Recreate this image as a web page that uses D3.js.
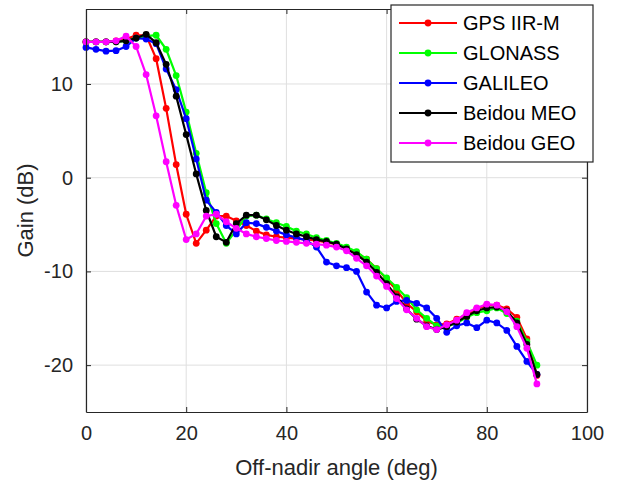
<!DOCTYPE html>
<html>
<head>
<meta charset="utf-8">
<script src="https://cdn.jsdelivr.net/npm/d3@7"></script>
<style>
  html, body { margin: 0; padding: 0; background: #fff; }
  svg { display: block; font-family: "Liberation Sans", Arial, sans-serif; }
</style>
</head>
<body>
<svg id="chart" width="618" height="487"></svg>
<script>
// ---- data ----
const angles = d3.range(0, 91, 2); // off-nadir angle (deg), 0..90 step 2

const seriesNames = ["GPS IIR-M", "GLONASS", "GALILEO", "Beidou MEO", "Beidou GEO"];
const seriesColors = ["#ff0000", "#00ff00", "#0000ff", "#000000", "#ff00ff"];

const gpsIIRM = [14.5, 14.5, 14.5, 14.6, 14.8, 15.2, 15.2, 12.7, 7.4, 1.4,
  -3.9, -7.0, -5.6, -4.1, -4.1, -4.6, -5.1, -5.7, -6.1, -6.3,
  -6.4, -6.5, -6.6, -6.7, -6.9, -7.1, -7.5, -8.0, -8.7, -9.7,
  -10.8, -12.0, -13.4, -14.3, -15.3, -15.7, -15.6, -15.1, -14.6, -14.0,
  -13.6, -13.6, -14.0, -14.9, -17.2, -21.1];

const glonass = [14.5, 14.5, 14.5, 14.5, 14.6, 14.9, 15.1, 15.2, 13.7, 10.9,
  7.0, 2.6, -1.6, -4.9, -7.0, -5.6, -4.1, -4.0, -4.4, -4.8,
  -5.2, -5.7, -6.0, -6.4, -6.7, -7.0, -7.4, -7.9, -8.7, -9.7,
  -10.7, -11.7, -12.8, -14.1, -15.0, -15.8, -15.9, -15.5, -14.9, -14.4,
  -14.2, -13.9, -14.5, -15.3, -17.5, -20.0];

const galileo = [13.9, 13.7, 13.5, 13.55, 14.0, 14.9, 14.8, 14.3, 11.6, 9.4,
  6.3, 2.0, -2.4, -3.7, -5.1, -6.0, -4.8, -4.9, -5.3, -5.7,
  -6.1, -6.4, -6.7, -7.4, -9.0, -9.4, -9.6, -10.0, -12.2, -13.6,
  -13.9, -13.2, -13.1, -13.4, -13.9, -15.0, -16.5, -15.8, -15.5, -16.0,
  -15.2, -15.5, -16.3, -18.0, -19.6, -21.0];

const beidouMEO = [14.5, 14.5, 14.5, 14.5, 14.6, 14.9, 15.3, 14.4, 12.1, 8.7,
  4.6, 0.4, -3.5, -6.3, -6.9, -4.9, -4.0, -4.0, -4.5, -5.1,
  -5.6, -6.0, -6.3, -6.6, -6.8, -7.1, -7.6, -8.2, -9.0, -10.1,
  -11.3, -12.7, -14.0, -15.1, -15.8, -16.2, -15.9, -15.4, -14.8, -14.2,
  -13.9, -13.8, -14.2, -15.5, -17.8, -21.0];

const beidouGEO = [14.5, 14.5, 14.5, 14.6, 15.1, 14.0, 11.0, 6.6, 1.7, -2.95,
  -6.6, -6.0, -4.1, -3.9, -4.7, -5.4, -6.0, -6.3, -6.5, -6.7,
  -6.8, -6.9, -7.0, -7.1, -7.2, -7.4, -7.8, -8.6, -9.4, -10.5,
  -11.6, -12.9, -14.1, -15.0, -15.9, -16.2, -15.7, -15.2, -14.4, -13.9,
  -13.5, -13.6, -14.3, -15.9, -18.2, -22.0];

const seriesValues = [gpsIIRM, glonass, galileo, beidouMEO, beidouGEO];

const xTicks = [0, 20, 40, 60, 80, 100];
const yTicks = [-20, -10, 0, 10];
const xLabel = "Off-nadir angle (deg)";
const yLabel = "Gain (dB)";

// ---- layout ----
const svg = d3.select("#chart");
const L = 86, R = 587, T = 9, B = 412;
const x = d3.scaleLinear().domain([0, 100]).range([L, R]);
const y = d3.scaleLinear().domain([-25, 18]).range([B, T]);
const axisColor = "#262626";
const gridColor = "#dfdfdf";
const plain = d => String(d); // hyphen-minus like the reference

// grid
svg.append("g").selectAll("line").data(xTicks).join("line")
  .attr("x1", d => x(d)).attr("x2", d => x(d)).attr("y1", T).attr("y2", B)
  .attr("stroke", gridColor).attr("stroke-width", 1);
svg.append("g").selectAll("line").data(yTicks).join("line")
  .attr("x1", L).attr("x2", R).attr("y1", d => y(d)).attr("y2", d => y(d))
  .attr("stroke", gridColor).attr("stroke-width", 1);

// axes (MATLAB style: ticks inward, box on)
const tl = 5;
const xAxisB = d3.axisBottom(x).tickValues(xTicks).tickFormat(plain).tickSizeInner(-tl).tickSizeOuter(0).tickPadding(14);
const xAxisT = d3.axisTop(x).tickValues(xTicks).tickSizeInner(-tl).tickSizeOuter(0).tickFormat("");
const yAxisL = d3.axisLeft(y).tickValues(yTicks).tickFormat(plain).tickSizeInner(-tl).tickSizeOuter(0).tickPadding(13);
const yAxisR = d3.axisRight(y).tickValues(yTicks).tickSizeInner(-tl).tickSizeOuter(0).tickFormat("");

function styleAxis(g) {
  g.select(".domain").attr("stroke", axisColor).attr("stroke-width", 1.2);
  g.selectAll(".tick line").attr("stroke", axisColor).attr("stroke-width", 1);
  g.selectAll(".tick text").attr("fill", axisColor)
    .style("font-size", "20px").style("font-family", "'Liberation Sans', Arial, sans-serif");
}

// series lines
const line = d3.line().x((d, i) => x(angles[i])).y(d => y(d));
seriesValues.forEach((vals, si) => {
  const g = svg.append("g");
  g.append("path").datum(vals).attr("d", line)
    .attr("fill", "none").attr("stroke", seriesColors[si]).attr("stroke-width", 2.2);
  g.selectAll("circle").data(vals).join("circle")
    .attr("cx", (d, i) => x(angles[i])).attr("cy", d => y(d)).attr("r", 3.4)
    .attr("fill", seriesColors[si]);
});

svg.append("g").attr("transform", `translate(0,${B})`).call(xAxisB).call(styleAxis);
svg.append("g").attr("transform", `translate(0,${T})`).call(xAxisT).call(styleAxis);
svg.append("g").attr("transform", `translate(${L},0)`).call(yAxisL).call(styleAxis);
svg.append("g").attr("transform", `translate(${R},0)`).call(yAxisR).call(styleAxis);

// axis labels
svg.append("text").attr("x", (L + R) / 2).attr("y", 475)
  .attr("text-anchor", "middle").attr("fill", axisColor)
  .style("font-size", "22px").text(xLabel);
svg.append("text").attr("transform", `translate(33,${(T + B) / 2}) rotate(-90)`)
  .attr("text-anchor", "middle").attr("fill", axisColor)
  .style("font-size", "22px").text(yLabel);

// legend
const lg = svg.append("g");
lg.append("rect").attr("x", 391).attr("y", 5).attr("width", 202).attr("height", 157)
  .attr("fill", "#fff").attr("stroke", axisColor).attr("stroke-width", 1.2);
seriesNames.forEach((name, i) => {
  const cy = 23 + i * 30;
  lg.append("line").attr("x1", 399).attr("x2", 457).attr("y1", cy).attr("y2", cy)
    .attr("stroke", seriesColors[i]).attr("stroke-width", 2.2);
  lg.append("circle").attr("cx", 428).attr("cy", cy).attr("r", 3.4).attr("fill", seriesColors[i]);
  lg.append("text").attr("x", 463).attr("y", cy + 7).attr("fill", "#000")
    .style("font-size", "20px").text(name);
});
</script>
</body>
</html>
